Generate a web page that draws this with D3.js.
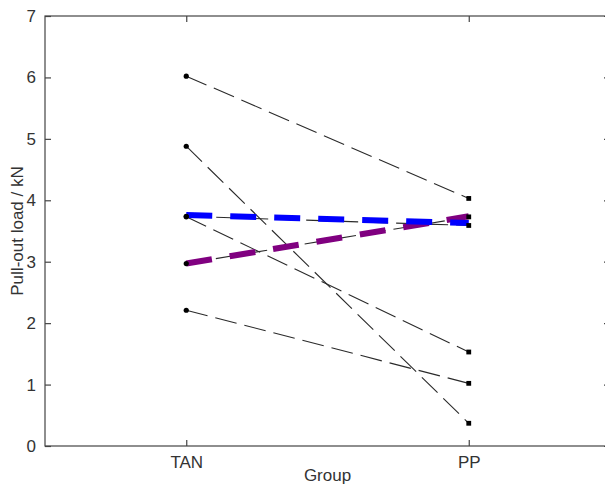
<!DOCTYPE html>
<html>
<head>
<meta charset="utf-8">
<script src="https://cdn.jsdelivr.net/npm/d3@7"></script>
<style>
  html, body { margin: 0; padding: 0; background: #fff; }
  svg { display: block; }
  text { font-family: "Liberation Sans", Arial, sans-serif; fill: #333; }
</style>
</head>
<body>
<svg id="chart" width="605" height="486"></svg>
<script>
// ---- data ----
const groups = ["TAN", "PP"];
const tanValues = [6.02, 4.88, 3.74, 3.73, 2.97, 2.21];
const ppValues  = [4.03, 0.37, 3.59, 1.53, 3.73, 1.02];
const blueLine   = [3.76, 3.63];
const purpleLine = [2.97, 3.74];
const yTicks = [0, 1, 2, 3, 4, 5, 6, 7];

// ---- layout ----
const svg = d3.select("#chart");
const mLeft = 45, mRight = 610, mTop = 16, mBottom = 446;

const x = d3.scaleLinear().domain([0.5, 2.5]).range([mLeft, mRight]);
const y = d3.scaleLinear().domain([0, 7]).range([mBottom, mTop]);
const axisColor = "#444";
const tickLen = 6;

// frame
svg.append("rect")
  .attr("x", mLeft).attr("y", mTop)
  .attr("width", mRight - mLeft).attr("height", mBottom - mTop)
  .attr("fill", "none").attr("stroke", axisColor).attr("stroke-width", 1.2);

// y axis (left) with inward ticks
const yAxisL = d3.axisLeft(y).tickValues(yTicks).tickSizeInner(-tickLen).tickSizeOuter(0).tickPadding(3 + tickLen).tickFormat(d3.format("d"));
const gL = svg.append("g").attr("transform", `translate(${mLeft},0)`).call(yAxisL);
gL.select(".domain").remove();
gL.selectAll(".tick line").attr("stroke", axisColor).attr("stroke-width", 1.2);
gL.selectAll(".tick text").attr("font-size", 17).attr("fill", "#333")
  .style("font-family", "'Liberation Sans', Arial, sans-serif");

// y axis (right) ticks only
const yAxisR = d3.axisRight(y).tickValues(yTicks).tickSizeInner(-tickLen).tickSizeOuter(0).tickFormat("");
const gR = svg.append("g").attr("transform", `translate(${mRight},0)`).call(yAxisR);
gR.select(".domain").remove();
gR.selectAll(".tick line").attr("stroke", axisColor).attr("stroke-width", 1.2);

// x axis (bottom)
const xAxisB = d3.axisBottom(x).tickValues([1, 2]).tickSizeInner(-tickLen).tickSizeOuter(0)
  .tickPadding(4 + tickLen).tickFormat(d => groups[d - 1]);
const gB = svg.append("g").attr("transform", `translate(0,${mBottom})`).call(xAxisB);
gB.select(".domain").remove();
gB.selectAll(".tick line").attr("stroke", axisColor).attr("stroke-width", 1.2);
gB.selectAll(".tick text").attr("font-size", 17).attr("fill", "#333")
  .style("font-family", "'Liberation Sans', Arial, sans-serif");

// x axis (top) ticks only
const xAxisT = d3.axisTop(x).tickValues([1, 2]).tickSizeInner(-tickLen).tickSizeOuter(0).tickFormat("");
const gT = svg.append("g").attr("transform", `translate(0,${mTop})`).call(xAxisT);
gT.select(".domain").remove();
gT.selectAll(".tick line").attr("stroke", axisColor).attr("stroke-width", 1.2);

// axis labels
svg.append("text")
  .attr("x", (mLeft + mRight) / 2).attr("y", 481)
  .attr("text-anchor", "middle").attr("font-size", 17)
  .text("Group");

svg.append("text")
  .attr("transform", `translate(23,${(mTop + mBottom) / 2}) rotate(-90)`)
  .attr("text-anchor", "middle").attr("font-size", 17)
  .text("Pull-out load / kN");

// ---- plot ----
const plot = svg.append("g");
const line = d3.line().x((d, i) => x(i + 1)).y(d => y(d));

// individual subject lines
tanValues.forEach((v, i) => {
  plot.append("path")
    .attr("d", line([v, ppValues[i]]))
    .attr("fill", "none").attr("stroke", "#2a2a2a").attr("stroke-width", 1.1)
    .attr("stroke-dasharray", "22,8");
});

// summary lines
plot.append("path")
  .attr("d", line(purpleLine))
  .attr("fill", "none").attr("stroke", "#800080").attr("stroke-width", 6)
  .attr("stroke-dasharray", "26,18");

plot.append("path")
  .attr("d", line(blueLine))
  .attr("fill", "none").attr("stroke", "#0000ff").attr("stroke-width", 6)
  .attr("stroke-dasharray", "26,18");

// markers
plot.selectAll("circle.tan").data(tanValues).enter().append("circle")
  .attr("class", "tan")
  .attr("cx", x(1)).attr("cy", d => y(d)).attr("r", 2.6).attr("fill", "#000");

plot.selectAll("rect.pp").data(ppValues).enter().append("rect")
  .attr("class", "pp")
  .attr("x", x(2) - 2.4).attr("y", d => y(d) - 2.4)
  .attr("width", 4.8).attr("height", 4.8).attr("fill", "#000");
</script>
</body>
</html>
